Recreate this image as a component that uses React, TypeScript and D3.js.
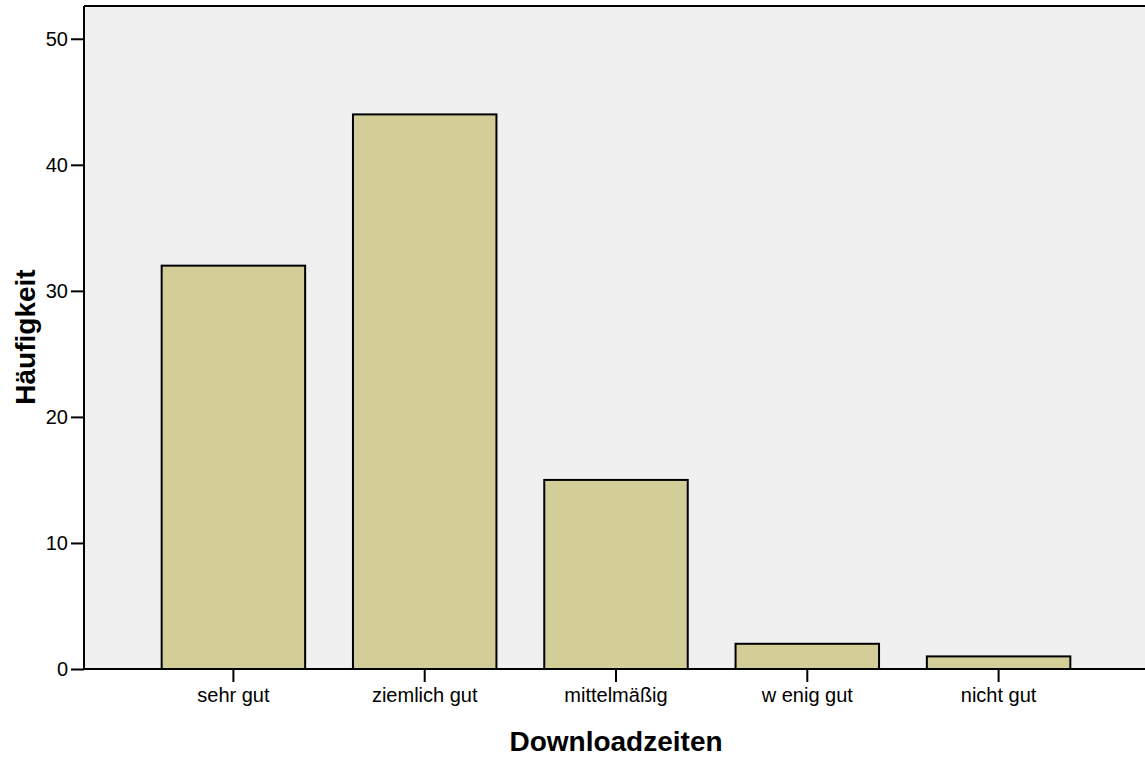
import { useEffect, useRef } from 'react';
import * as d3 from 'd3';

const categories = ['sehr gut', 'ziemlich gut', 'mittelmäßig', 'w enig gut', 'nicht gut'];
const counts = [32, 44, 15, 2, 1];
const yTicks = [0, 10, 20, 30, 40, 50];
const xTitle = 'Downloadzeiten';
const yTitle = 'Häufigkeit';

const App = () => {
  const svgRef = useRef<SVGSVGElement>(null);

  const width = 1145;
  const height = 757;
  const left = 84;
  const top = 6;
  const right = 1148;
  const bottom = 669;

  useEffect(() => {
    if (!svgRef.current) return;
    const svg = d3.select(svgRef.current);
    svg.selectAll('*').remove();

    const font = 'Arial, "Liberation Sans", sans-serif';

    const x = d3.scaleBand<string>()
      .domain(categories)
      .range([left, right])
      .paddingInner(0.25)
      .paddingOuter(0.406);

    const y = d3.scaleLinear()
      .domain([0, 52.6])
      .range([bottom, top]);

    // plot background
    svg.append('rect')
      .attr('x', left)
      .attr('y', top)
      .attr('width', width - left)
      .attr('height', bottom - top)
      .attr('fill', '#f0f0f0');

    // top border
    svg.append('line')
      .attr('x1', left).attr('x2', width)
      .attr('y1', top).attr('y2', top)
      .attr('stroke', 'black')
      .attr('stroke-width', 2);

    // bars
    svg.selectAll('.bar')
      .data(counts)
      .enter().append('rect')
      .attr('class', 'bar')
      .attr('x', (_d, i) => x(categories[i]) || 0)
      .attr('y', d => y(d))
      .attr('width', x.bandwidth())
      .attr('height', d => bottom - y(d))
      .attr('fill', '#d3ce97')
      .attr('stroke', 'black')
      .attr('stroke-width', 2);

    // y axis
    const yAxis = svg.append('g')
      .attr('transform', `translate(${left},0)`)
      .call(d3.axisLeft(y).tickValues(yTicks).tickSize(13).tickPadding(3));
    yAxis.select('.domain').attr('stroke-width', 2).attr('d', `M0,${bottom}V${top}`);
    yAxis.selectAll('.tick line').attr('stroke-width', 2);
    yAxis.selectAll('.tick text')
      .attr('font-family', font)
      .attr('font-size', 20)
      .attr('fill', 'black');

    // x axis
    const xAxis = svg.append('g')
      .attr('transform', `translate(0,${bottom})`)
      .call(d3.axisBottom(x).tickSize(13).tickPadding(6));
    xAxis.select('.domain').attr('stroke-width', 2).attr('d', `M${left},0H${width}`);
    xAxis.selectAll('.tick line').attr('stroke-width', 2);
    xAxis.selectAll('.tick text')
      .attr('font-family', font)
      .attr('font-size', 20)
      .attr('fill', 'black');

    // titles
    svg.append('text')
      .attr('x', 616)
      .attr('y', 751)
      .attr('text-anchor', 'middle')
      .attr('font-family', font)
      .attr('font-weight', 'bold')
      .attr('font-size', 28)
      .text(xTitle);

    svg.append('text')
      .attr('transform', `translate(35,337) rotate(-90)`)
      .attr('text-anchor', 'middle')
      .attr('font-family', font)
      .attr('font-weight', 'bold')
      .attr('font-size', 28)
      .text(yTitle);
  }, []);

  return (
    <svg
      ref={svgRef}
      width={width}
      height={height}
      style={{ position: 'absolute', left: 0, top: 0, background: 'white', display: 'block' }}
    />
  );
};

export default App;
